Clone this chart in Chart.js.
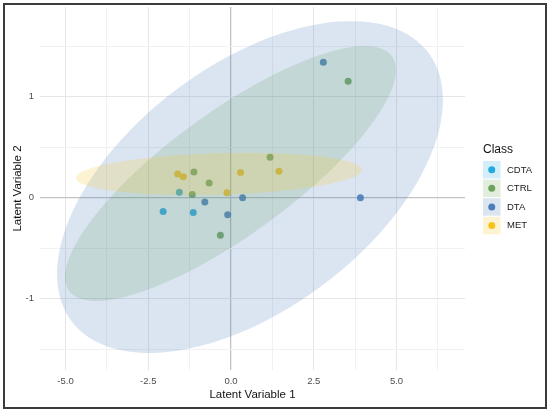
<!DOCTYPE html>
<html>
<head>
<meta charset="utf-8">
<script src="https://cdn.jsdelivr.net/npm/chart.js@4"></script>
<style>
  html, body { margin: 0; padding: 0; background: #fff; }
  #wrap { width: 550px; height: 412px; }
</style>
</head>
<body>
<div id="wrap"><canvas id="chart"></canvas></div>
<script>
const classes = ['CDTA', 'CTRL', 'DTA', 'MET'];
const classColors = ['#23a9e1', '#6ea35b', '#4a7eb8', '#f7c21c'];

// scores per class (Latent Variable 1, Latent Variable 2)
const cdtaX = [-1.56, -2.05, -1.14];
const cdtaY = [0.056, -0.136, -0.146];
const ctrlX = [-1.12, 1.18, -0.66, -1.17, -0.32, 3.54];
const ctrlY = [0.257, 0.403, 0.146, 0.033, -0.37, 1.155];
const dtaX = [-0.79, 0.35, 3.91, -0.10, 2.79];
const dtaY = [-0.04, 0.0, 0.0, -0.168, 1.344];
const metX = [-1.61, -1.44, 0.29, 1.45, -0.12];
const metY = [0.235, 0.208, 0.25, 0.264, 0.05];

const xTicks = [-5, -3.75, -2.5, -1.25, 0, 1.25, 2.5, 3.75, 5, 6.25];
const xLabeled = [-5, -2.5, 0, 2.5, 5];
const yTicks = [-1.5, -1, -0.5, 0, 0.5, 1, 1.5];
const yLabeled = [-1, 0, 1];

// confidence ellipses: centre + lower triangular shape [a11, a21, a22] in data units
const ellipseClasses = ['CTRL', 'DTA', 'MET'];
const ellipseCenters = [[-0.015, 0.241], [0.574, 0.107], [-0.363, 0.237]];
const ellipseShapes = [[5.0, 1.025, 0.737], [5.83, 0.861, 1.40], [4.32, 0.04, 0.206]];

const seriesX = [cdtaX, ctrlX, dtaX, metX];
const seriesY = [cdtaY, ctrlY, dtaY, metY];

const hexA = (hex, a) => {
    const n = parseInt(hex.slice(1), 16);
    return `rgba(${n >> 16}, ${(n >> 8) & 255}, ${n & 255}, ${a})`;
};

Chart.defaults.font.family = "'Liberation Sans', Arial, sans-serif";

const ellipsePlugin = {
    id: 'ellipses',
    afterDatasetsDraw(chart) {
        const { ctx, chartArea, scales: { x, y } } = chart;
        ctx.save();
        ctx.beginPath();
        ctx.rect(chartArea.left, chartArea.top, chartArea.width, chartArea.height);
        ctx.clip();
        ellipseClasses.forEach((cls, i) => {
            const [cx, cy] = ellipseCenters[i];
            const [a11, a21, a22] = ellipseShapes[i];
            ctx.beginPath();
            for (let k = 0; k <= 120; k++) {
                const t = k / 120 * Math.PI * 2;
                const px = x.getPixelForValue(cx + a11 * Math.cos(t));
                const py = y.getPixelForValue(cy + a21 * Math.cos(t) + a22 * Math.sin(t));
                if (k) ctx.lineTo(px, py); else ctx.moveTo(px, py);
            }
            ctx.closePath();
            ctx.fillStyle = hexA(classColors[classes.indexOf(cls)], 0.2);
            ctx.fill();
        });
        ctx.restore();
    },
    afterDraw(chart) {
        const ctx = chart.ctx;
        ctx.save();
        // legend
        ctx.textBaseline = 'middle';
        ctx.textAlign = 'left';
        ctx.fillStyle = '#111';
        ctx.font = "12px 'Liberation Sans', Arial, sans-serif";
        ctx.fillText('Class', 483, 150);
        ctx.font = "9.5px 'Liberation Sans', Arial, sans-serif";
        classes.forEach((cls, i) => {
            const top = 161 + i * 18.6;
            ctx.fillStyle = hexA(classColors[i], 0.2);
            ctx.fillRect(483, top, 17.5, 17.5);
            ctx.fillStyle = classColors[i];
            ctx.beginPath();
            ctx.arc(491.75, top + 8.75, 3.5, 0, Math.PI * 2);
            ctx.fill();
            ctx.fillStyle = '#1a1a1a';
            ctx.fillText(cls, 507, top + 9);
        });
        // frame
        ctx.strokeStyle = '#3b3b3b';
        ctx.lineWidth = 2;
        ctx.strokeRect(4, 4, 542, 404);
        ctx.restore();
    }
};

const gridColor = (labeled) => (c) => {
    const v = c.tick ? c.tick.value : null;
    if (v === 0) return '#c2c2c2';
    return labeled.includes(v) ? '#e6e6e6' : '#f1f1f1';
};

new Chart(document.getElementById('chart'), {
    type: 'scatter',
    data: {
        datasets: classes.map((cls, i) => ({
            label: cls,
            data: seriesX[i].map((v, j) => ({ x: v, y: seriesY[i][j] })),
            backgroundColor: hexA(classColors[i], 0.9),
            borderWidth: 0,
            pointRadius: 3.5,
            pointHoverRadius: 3.5
        }))
    },
    options: {
        responsive: true,
        maintainAspectRatio: false,
        animation: false,
        layout: {
            padding: { left: 0, right: 85, top: 7, bottom: 0 }
        },
        scales: {
            x: {
                type: 'linear',
                min: -5.77,
                max: 7.07,
                afterBuildTicks: (s) => { s.ticks = xTicks.map(v => ({ value: v })); },
                afterFit: (s) => { s.height = 42; s.paddingLeft = 0; s.paddingRight = 0; },
                ticks: {
                    autoSkip: false,
                    maxRotation: 0,
                    padding: 6,
                    color: '#4d4d4d',
                    font: { size: 9.5 },
                    callback: (v) => xLabeled.includes(v) ? v.toFixed(1) : ''
                },
                grid: {
                    drawTicks: false,
                    color: gridColor(xLabeled),
                    lineWidth: (c) => (c.tick && c.tick.value === 0) ? 1.3 : 1
                },
                border: { display: false },
                title: {
                    display: true,
                    text: 'Latent Variable 1',
                    color: '#111',
                    font: { size: 11.5 },
                    padding: { top: 10.5, bottom: 10.5 }
                }
            },
            y: {
                type: 'linear',
                min: -1.705,
                max: 1.89,
                afterBuildTicks: (s) => { s.ticks = yTicks.map(v => ({ value: v })); },
                afterFit: (s) => { s.width = 40; s.paddingTop = 0; s.paddingBottom = 0; },
                ticks: {
                    autoSkip: false,
                    padding: 6,
                    color: '#4d4d4d',
                    font: { size: 9.5 },
                    callback: (v) => yLabeled.includes(v) ? String(v) : ''
                },
                grid: {
                    drawTicks: false,
                    color: gridColor(yLabeled),
                    lineWidth: (c) => (c.tick && c.tick.value === 0) ? 1.3 : 1
                },
                border: { display: false },
                title: {
                    display: true,
                    text: 'Latent Variable 2',
                    color: '#111',
                    font: { size: 11.5 },
                    padding: { top: 10.5, bottom: 0 }
                }
            }
        },
        plugins: {
            legend: { display: false },
            tooltip: { enabled: false }
        }
    },
    plugins: [ellipsePlugin]
});
</script>
</body>
</html>
